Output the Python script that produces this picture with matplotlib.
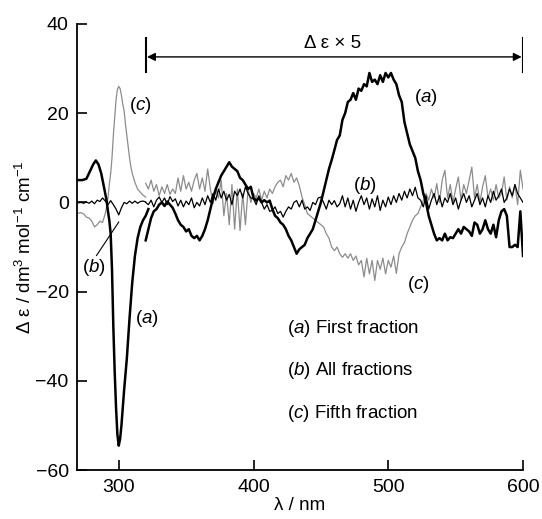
import matplotlib
matplotlib.use("Agg")
import matplotlib.pyplot as plt

plt.rcParams['font.family'] = ['Liberation Sans', 'DejaVu Sans']
plt.rcParams['mathtext.fontset'] = 'custom'
plt.rcParams['mathtext.rm'] = 'Liberation Sans'
plt.rcParams['mathtext.it'] = 'Liberation Sans:italic'

# ---- unscaled part (270-322 nm) ----
wl_lo_a = [270, 273, 276, 279, 281, 283, 285, 287, 289, 291, 292, 293, 294, 295,
           296, 297, 298, 299, 300, 301, 302, 303, 304, 306, 308, 310, 312, 314,
           316, 318, 320, 322]
a_lo = [5.0, 5.0, 5.3, 7.2, 8.5, 9.4, 8.5, 6.5, 3.5, 0.4, -2.0, -4.0, -7.0, -15.0,
        -28.0, -38.0, -46.0, -52.0, -54.5, -53.0, -50.0, -46.0, -42.0, -35.0, -26.0,
        -18.0, -12.0, -8.0, -5.5, -4.0, -3.0, -1.5]

wl_lo_b = [270, 272, 274, 276, 278, 280, 282, 284, 286, 288, 290, 292, 294, 296,
           298, 300, 302, 304, 306, 308, 310, 312, 314, 316, 318, 320]
b_lo = [-0.1, 0.0, -0.2, 0.1, -0.2, 0.3, -0.3, 0.5, 0.2, 1.0, 0.3, -0.5, 0.4, -0.5,
        -1.5, -2.8, -1.2, 0.0, -0.3, 0.3, -0.2, 0.3, -0.2, 0.2, 0.3, 0.1]

wl_lo_c = [270, 272, 274, 276, 278, 280, 282, 284, 286, 288, 290, 291, 292, 293,
           294, 295, 296, 297, 298, 299, 300, 301, 302, 303, 304, 305, 306, 307,
           308, 309, 310, 312, 314, 316, 318, 320]
c_lo = [-2.4, -2.3, -2.6, -3.3, -3.5, -4.2, -5.5, -5.0, -4.2, -4.5, -2.5, -1.0, 1.0,
        4.0, 6.5, 10.0, 15.0, 19.0, 23.0, 25.3, 26.0, 25.5, 24.0, 22.0, 20.5, 17.5,
        15.0, 12.5, 10.0, 8.0, 6.5, 4.5, 3.0, 2.3, 1.6, 1.2]

# ---- x5 scaled part (320-600 nm, 2 nm step) ----
wl_hi = list(range(320, 601, 2))
a_hi = [-8.5, -6.0, -3.5, -2.0, -1.5, -0.5, 0.0, -0.8, 0.2, -0.5,
        -1.2, -2.5, -4.0, -5.0, -5.5, -6.5, -6.0, -7.5, -8.0, -7.5,
        -8.5, -7.5, -6.0, -4.0, -1.5, 1.0, 3.0, 4.5, 6.0, 7.0,
        8.0, 9.0, 8.0, 7.5, 7.0, 5.5, 5.0, 4.0, 3.0, 3.5,
        1.0, 0.4, 1.0, 0.0, 0.5, 0.0, 0.4, -1.5, -3.0, -3.5,
        -4.5, -5.0, -6.0, -7.5, -8.5, -10.0, -11.5, -10.5, -10.0, -9.5,
        -8.0, -7.0, -6.0, -4.0, -2.0, 0.0, 2.5, 5.0, 7.5, 9.5,
        11.7, 14.0, 15.0, 18.5, 20.0, 22.5, 23.0, 24.5, 23.0, 25.5,
        25.0, 26.5, 26.0, 29.0, 27.0, 27.5, 26.5, 28.5, 27.0, 29.0,
        28.0, 29.0, 27.5, 26.5, 24.0, 22.5, 18.0, 15.5, 13.0, 11.5,
        10.0, 7.0, 5.0, 2.0, 0.0, -3.0, -5.0, -7.0, -8.5, -8.0,
        -8.5, -7.0, -8.5, -7.8, -8.0, -7.0, -6.0, -7.0, -5.5, -6.0,
        -6.5, -7.5, -4.5, -5.0, -7.0, -6.0, -4.0, -6.0, -7.0, -5.0,
        -7.8, -4.0, -2.0, -1.5, -3.0, -10.0, -10.0, -9.5, -10.0, -2.0,
        -12.0]
b_hi = [0.0, -0.5, 0.5, -1.0, 0.5, 1.2, 0.0, 1.0, -0.5, 1.3,
        0.2, 0.8, -0.8, 0.5, -1.0, 0.3, -0.5, 1.0, -1.2, 0.0,
        -0.8, 1.0, -0.5, 1.5, 0.0, 2.0, 0.5, 3.0, 1.0, 2.5,
        0.5, 1.8, -0.5, 2.5, 1.5, 3.0, 1.0, 3.5, 2.0, 1.0,
        0.8, -0.5, 1.5, 0.0, -1.5, -0.5, -2.0, -1.8, -1.0, -2.5,
        -2.0, -3.3, -2.0, -1.0, -1.5, 0.0, 0.4, -1.0, 0.5, -1.5,
        -1.0, -1.8, 0.0, -0.5, 1.0, 1.2, 0.0, -1.5, 0.5, -0.5,
        0.4, -1.0, -0.3, 1.5, -1.0, 1.0, -1.5, 0.5, -2.0, 0.0,
        1.5, -0.5, 1.0, -1.5, 0.8, -1.0, 1.5, -1.8, 0.5, -1.0,
        1.2, -0.5, 1.5, 0.0, 2.0, 0.5, 2.5, 1.0, 3.0, 1.5,
        3.4, 1.0, 0.5, -1.0, 1.5, -1.5, 0.5, 2.0, -0.5, 1.5,
        -1.0, 1.0, 0.0, 2.0, -0.5, 1.0, -1.5, 0.5, 2.0, 0.0,
        1.5, -1.0, 0.5, 2.0, -0.5, 1.0, -1.0, 1.5, 0.0, 2.5,
        0.5, 1.5, 3.0, 0.0, 1.0, 3.0, 1.5, 4.0, 2.0, 1.0,
        0.0]
c_hi = [4.3, 3.0, 5.0, 2.5, 4.0, 1.5, 3.5, 2.0, 4.0, 1.8,
        3.0, 2.0, 5.5, 2.5, 6.0, 3.0, 4.5, 2.5, 5.0, 6.5,
        3.0, 5.5, 2.5, 7.5, 3.0, -0.3, 3.0, 1.0, 5.0, -3.0,
        2.0, -5.0, 4.0, -6.0, 3.0, -6.3, 2.0, -5.0, 3.0, 0.0,
        2.0, 1.0, 3.0, 0.5, 2.5, 1.0, 3.0, 2.0, 3.5, 4.5,
        5.0, 3.5, 6.0, 5.0, 6.5, 4.5, 5.5, 3.7, 1.2, -0.5,
        -2.5, -3.0, -3.5, -4.0, -4.5, -5.0, -5.5, -7.0, -8.0, -10.0,
        -10.8, -10.0, -11.5, -12.3, -11.5, -12.5, -11.5, -13.0, -12.0, -14.0,
        -13.0, -16.7, -12.5, -16.0, -13.0, -17.5, -13.0, -15.0, -12.5, -16.0,
        -13.0, -14.5, -12.0, -15.9, -11.5, -10.0, -9.0, -7.0, -5.5, -4.0,
        -3.0, -2.5, -1.0, 0.4, 2.0, 0.5, 3.0, 1.0, 4.2, 0.0,
        5.0, 7.2, 1.0, 4.0, 0.0, 3.0, 5.7, 0.5, 4.0, 2.0,
        5.0, 7.9, 1.0, 4.0, 0.0, 3.5, 6.0, 1.0, 3.0, 0.5,
        4.0, 1.0, 2.0, 5.7, 0.5, 3.5, 1.0, 4.0, -0.5, 7.2,
        3.0]

legend_lines = ["($\\mathit{a}$) First fraction",
                "($\\mathit{b}$) All fractions",
                "($\\mathit{c}$) Fifth fraction"]

fig = plt.figure(figsize=(5.42, 5.19), dpi=100)
ax = fig.add_axes([0.142, 0.094, 0.823, 0.860])

grey = '0.55'
ax.plot(wl_lo_c, c_lo, '-', color=grey, lw=0.9)
ax.plot(wl_hi, c_hi, '-', color=grey, lw=0.9)
ax.plot(wl_lo_b, b_lo, '-', color='k', lw=0.9)
ax.plot(wl_hi, b_hi, '-', color='k', lw=0.9)
ax.plot(wl_lo_a, a_lo, '-', color='k', lw=1.8)
ax.plot(wl_hi, a_hi, '-', color='k', lw=1.8)

# scaling marker
ax.plot([320, 320], [29.2, 36.8], color='k', lw=1.5)
ax.plot([600, 600], [29.2, 36.8], color='k', lw=1.5)
ax.annotate('', xy=(321, 32.6), xytext=(599, 32.6),
            arrowprops=dict(arrowstyle='<|-|>', color='k', lw=1.0,
                            mutation_scale=12, shrinkA=0, shrinkB=0))
ax.text(459, 35.6, 'Δ ε × 5', ha='center', va='center', fontsize=13.5)

fs = 13.5
ax.text(316, 21.8, '($\\mathit{c}$)', ha='center', va='center', fontsize=fs)
ax.text(321, -26, '($\\mathit{a}$)', ha='center', va='center', fontsize=fs)
ax.text(281.5, -14.6, '($\\mathit{b}$)', ha='center', va='center', fontsize=fs)
ax.plot([283.5, 300], [-11.9, -4.4], color='k', lw=0.8)
ax.text(528, 23.6, '($\\mathit{a}$)', ha='center', va='center', fontsize=fs)
ax.text(483, 3.8, '($\\mathit{b}$)', ha='center', va='center', fontsize=fs)
ax.text(522, -18.5, '($\\mathit{c}$)', ha='center', va='center', fontsize=fs)

for txt, yy in zip(legend_lines, [-28.3, -37.7, -47.3]):
  ax.text(424.8, yy, txt, ha='left', va='center', fontsize=fs)

ax.set_xlim(269, 600)
ax.set_ylim(-60, 40)
ax.set_xticks([300, 400, 500, 600])
ax.set_yticks([-60, -40, -20, 0, 20, 40])
ax.set_yticklabels(['\u221260', '\u221240', '\u221220', '0', '20', '40'])
for s in ['top', 'right']:
  ax.spines[s].set_visible(False)
for s in ['left', 'bottom']:
  ax.spines[s].set_linewidth(1.3)
ax.tick_params(direction='in', length=7, width=1.2, labelsize=14, pad=6)
ax.set_xlabel('λ / nm', fontsize=13.5, labelpad=1)
ax.set_ylabel('Δ ε / dm$^3$ mol$^{-1}$ cm$^{-1}$', fontsize=13.5, labelpad=0)

fig.savefig('out.png', dpi=100)
